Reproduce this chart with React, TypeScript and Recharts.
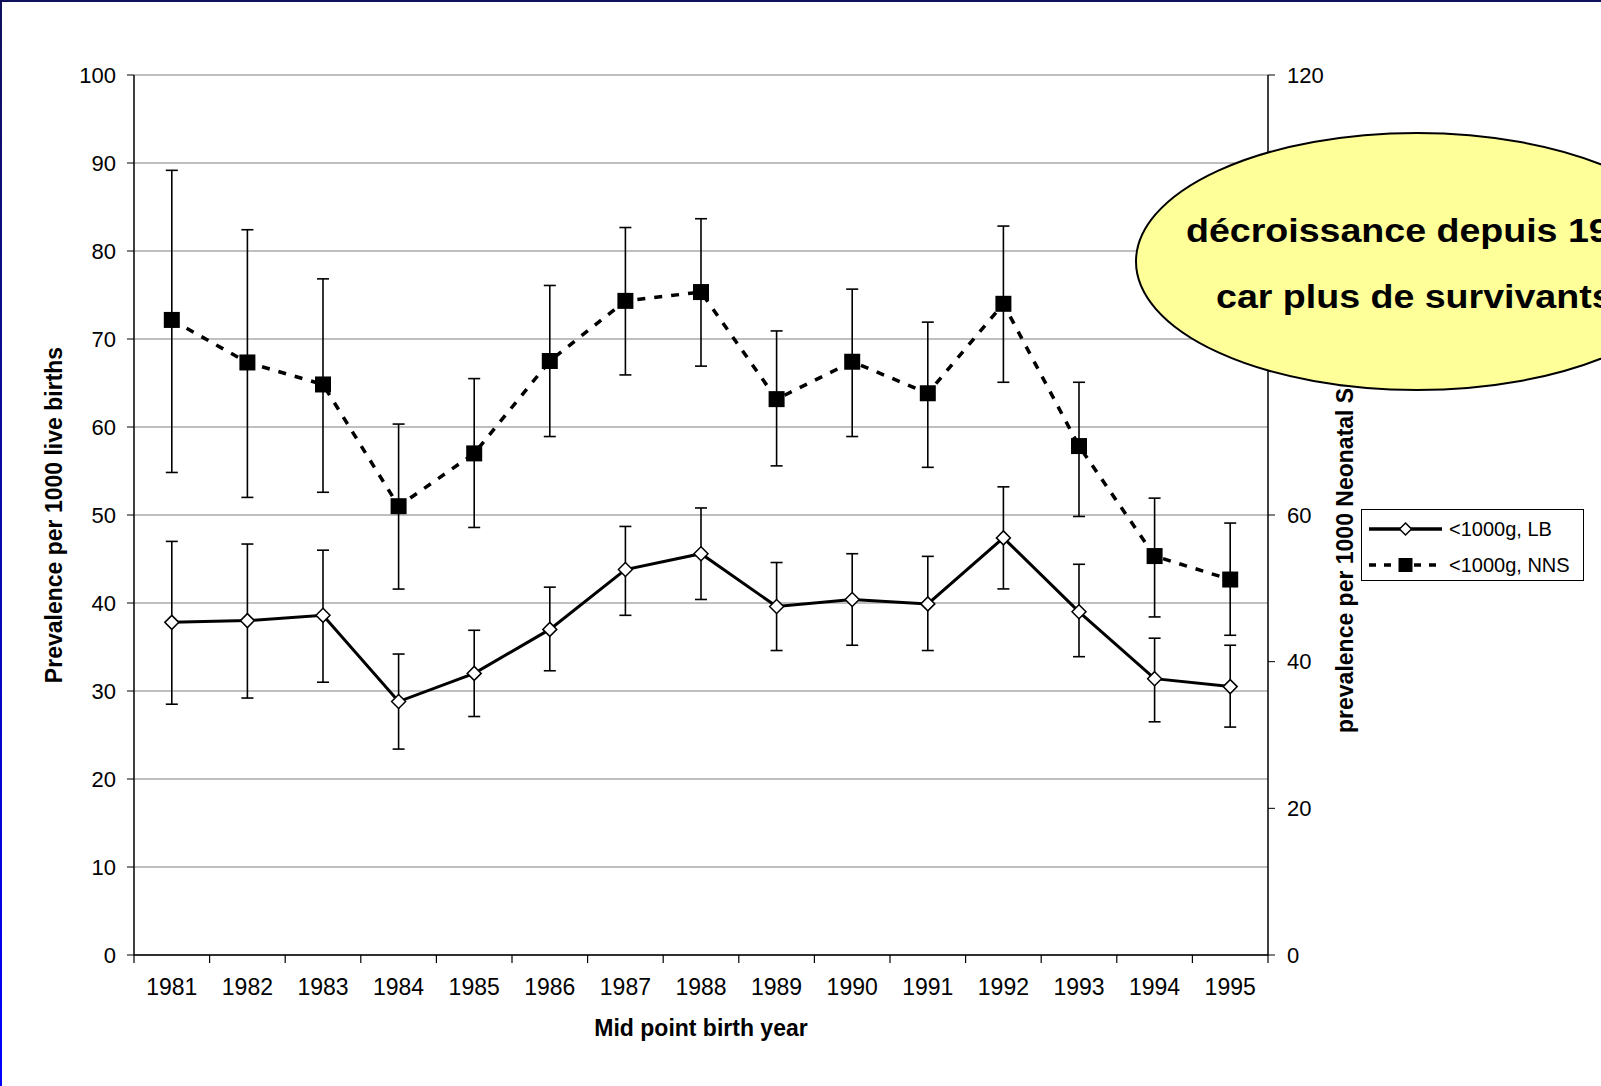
import React from "react";
import {
  ComposedChart,
  Line,
  XAxis,
  YAxis,
  CartesianGrid,
  ErrorBar,
  Legend,
} from "recharts";

const YEARS = [
  "1981", "1982", "1983", "1984", "1985", "1986", "1987", "1988",
  "1989", "1990", "1991", "1992", "1993", "1994", "1995",
];

// <1000g per 1000 live births (left axis)
const LB = [37.8, 38.0, 38.6, 28.8, 32.0, 37.0, 43.8, 45.6, 39.6, 40.4, 39.9, 47.4, 39.0, 31.4, 30.5];
const LB_LOW = [28.5, 29.2, 31.0, 23.4, 27.1, 32.3, 38.6, 40.4, 34.6, 35.2, 34.6, 41.6, 33.9, 26.5, 25.9];
const LB_HIGH = [47.0, 46.7, 46.0, 34.2, 36.9, 41.8, 48.7, 50.8, 44.6, 45.6, 45.3, 53.2, 44.4, 36.0, 35.2];

// <1000g per 1000 neonatal survivors (right axis)
const NNS = [86.6, 80.8, 77.8, 61.2, 68.4, 81.0, 89.2, 90.4, 75.8, 80.9, 76.6, 88.8, 69.4, 54.4, 51.2];
const NNS_LOW = [65.8, 62.4, 63.1, 49.9, 58.3, 70.7, 79.1, 80.3, 66.7, 70.7, 66.5, 78.1, 59.8, 46.1, 43.6];
const NNS_HIGH = [107.0, 98.9, 92.2, 72.4, 78.6, 91.3, 99.2, 100.4, 85.1, 90.8, 86.3, 99.4, 78.1, 62.3, 58.9];

const LEFT_TICKS = [0, 10, 20, 30, 40, 50, 60, 70, 80, 90, 100];
const RIGHT_TICKS = [0, 20, 40, 60, 80, 100, 120];

const FONT = '"Liberation Sans", Arial, Helvetica, sans-serif';

const data = YEARS.map((year, i) => ({
  year,
  lb: LB[i],
  lbErr: [LB[i] - LB_LOW[i], LB_HIGH[i] - LB[i]],
  nns: NNS[i],
  nnsErr: [NNS[i] - NNS_LOW[i], NNS_HIGH[i] - NNS[i]],
}));

const Diamond = ({ cx, cy, r = 7 }: any) => (
  <path
    d={`M${cx},${cy - r}L${cx + r},${cy}L${cx},${cy + r}L${cx - r},${cy}Z`}
    fill="#fff"
    stroke="#000"
    strokeWidth={1.5}
  />
);

const Square = ({ cx, cy, s = 8 }: any) => (
  <rect x={cx - s} y={cy - s} width={s * 2} height={s * 2} fill="#000" />
);

// year label at the band centre, tick marks on the band edges
const YearTick = (props: any) => {
  const { x, y, payload, index, visibleTicksCount, width } = props;
  const half = payload.offset || width / visibleTicksCount / 2;
  return (
    <g>
      <line x1={x - half} x2={x - half} y1={y} y2={y + 8} stroke="#000" strokeWidth={1.2} />
      {index === visibleTicksCount - 1 && (
        <line x1={x + half} x2={x + half} y1={y} y2={y + 8} stroke="#000" strokeWidth={1.2} />
      )}
      <text x={x} y={y + 40} textAnchor="middle" fontSize={23} fill="#000">
        {payload.value}
      </text>
    </g>
  );
};

const VerticalTitle = ({ viewBox, text, dx }: any) => {
  const vb = viewBox || { x: 0, y: 75, width: 0, height: 880 };
  const cx = vb.x + dx;
  const cy = vb.y + vb.height / 2;
  return (
    <text
      transform={`translate(${cx},${cy}) rotate(-90)`}
      textAnchor="middle"
      fontSize={23}
      fontWeight="bold"
      fill="#000"
    >
      {text}
    </text>
  );
};

const BottomTitle = ({ viewBox }: any) => {
  const vb = viewBox || { x: 134, y: 955, width: 1134, height: 60 };
  return (
    <text
      x={vb.x + vb.width / 2}
      y={vb.y + 81}
      textAnchor="middle"
      fontSize={23}
      fontWeight="bold"
      fill="#000"
    >
      Mid point birth year
    </text>
  );
};

const LegendBox = ({ payload }: any) => (
  <svg width={223} height={72} style={{ display: "block", fontFamily: FONT }}>
    <rect x={0.5} y={0.5} width={222} height={71} fill="#fff" stroke="#000" />
    {(payload || []).map((entry: any, i: number) => {
      const y = 20 + i * 36;
      const isLB = entry.dataKey === "lb";
      return (
        <g key={entry.value}>
          <line
            x1={8}
            x2={81}
            y1={y}
            y2={y}
            stroke="#000"
            strokeWidth={3.5}
            strokeDasharray={isLB ? undefined : "7 8"}
          />
          {isLB ? <Diamond cx={44.5} cy={y} r={6} /> : <Square cx={44.5} cy={y} s={7} />}
          <text x={88} y={y + 7} fontSize={20} fill="#000">
            {entry.value}
          </text>
        </g>
      );
    })}
  </svg>
);

export default function App() {
  return (
    <div
      style={{
        position: "absolute",
        left: 0,
        top: 0,
        width: 1601,
        height: 1086,
        overflow: "hidden",
        background: "#fff",
        fontFamily: FONT,
      }}
    >
      <ComposedChart
        width={1601}
        height={1086}
        data={data}
        margin={{ top: 75, right: 253, bottom: 71, left: 0 }}
      >
        <CartesianGrid yAxisId="left" vertical={false} stroke="#808080" strokeWidth={1} />
        <XAxis
          dataKey="year"
          scale="band"
          height={60}
          tickLine={false}
          tickSize={0}
          tickMargin={0}
          axisLine={{ stroke: "#000", strokeWidth: 1.5 }}
          tick={<YearTick />}
          interval={0}
          label={<BottomTitle />}
        />
        <YAxis
          yAxisId="left"
          width={134}
          domain={[0, 100]}
          ticks={LEFT_TICKS}
          interval={0}
          allowDataOverflow
          tickSize={7}
          tickMargin={11}
          axisLine={{ stroke: "#000", strokeWidth: 1.5 }}
          tickLine={{ stroke: "#000" }}
          tick={{ fill: "#000", fontSize: 22 }}
          label={<VerticalTitle text="Prevalence per 1000 live births" dx={62} />}
        />
        <YAxis
          yAxisId="right"
          orientation="right"
          width={80}
          domain={[0, 120]}
          ticks={RIGHT_TICKS}
          interval={0}
          allowDataOverflow
          tickSize={7}
          tickMargin={12}
          axisLine={{ stroke: "#000", strokeWidth: 1.5 }}
          tickLine={{ stroke: "#000" }}
          tick={{ fill: "#000", fontSize: 22 }}
          label={<VerticalTitle text="prevalence per 1000 Neonatal Survivors" dx={85} />}
        />
        <Legend
          layout="horizontal"
          verticalAlign="middle"
          align="center"
          wrapperStyle={{ left: 1361, top: 509, width: 223, height: 72 }}
          content={<LegendBox />}
        />
        <Line
          yAxisId="left"
          dataKey="lb"
          name="<1000g, LB"
          stroke="#000"
          strokeWidth={3}
          isAnimationActive={false}
          dot={(p: any) => <Diamond key={`lb-${p.index}`} cx={p.cx} cy={p.cy} />}
          activeDot={false}
        >
          <ErrorBar
            dataKey="lbErr"
            direction="y"
            width={6}
            stroke="#000"
            strokeWidth={1.6}
            isAnimationActive={false}
          />
        </Line>
        <Line
          yAxisId="right"
          dataKey="nns"
          name="<1000g, NNS"
          stroke="#000"
          strokeWidth={3.5}
          strokeDasharray="8 9"
          isAnimationActive={false}
          dot={(p: any) => <Square key={`nns-${p.index}`} cx={p.cx} cy={p.cy} />}
          activeDot={false}
        >
          <ErrorBar
            dataKey="nnsErr"
            direction="y"
            width={6}
            stroke="#000"
            strokeWidth={1.6}
            isAnimationActive={false}
          />
        </Line>
      </ComposedChart>

      <svg
        width={1601}
        height={1086}
        style={{ position: "absolute", left: 0, top: 0, pointerEvents: "none", fontFamily: FONT }}
      >
        <ellipse cx={1417} cy={261.5} rx={281} ry={128.5} fill="#FFFF99" stroke="#000" strokeWidth={2} />
        <text transform="translate(1186,242) scale(1.105,1)" fontSize={34} fontWeight="bold" fill="#000">
          décroissance depuis 1992
        </text>
        <text transform="translate(1216,308) scale(1.105,1)" fontSize={34} fontWeight="bold" fill="#000">
          car plus de survivants
        </text>
      </svg>

      <div style={{ position: "absolute", left: 0, top: 0, width: 1601, height: 2, background: "#10105c" }} />
      <div
        style={{
          position: "absolute",
          left: 0,
          top: 0,
          width: 2,
          height: 1086,
          background: "linear-gradient(#10105c, #0000ff)",
        }}
      />
    </div>
  );
}
